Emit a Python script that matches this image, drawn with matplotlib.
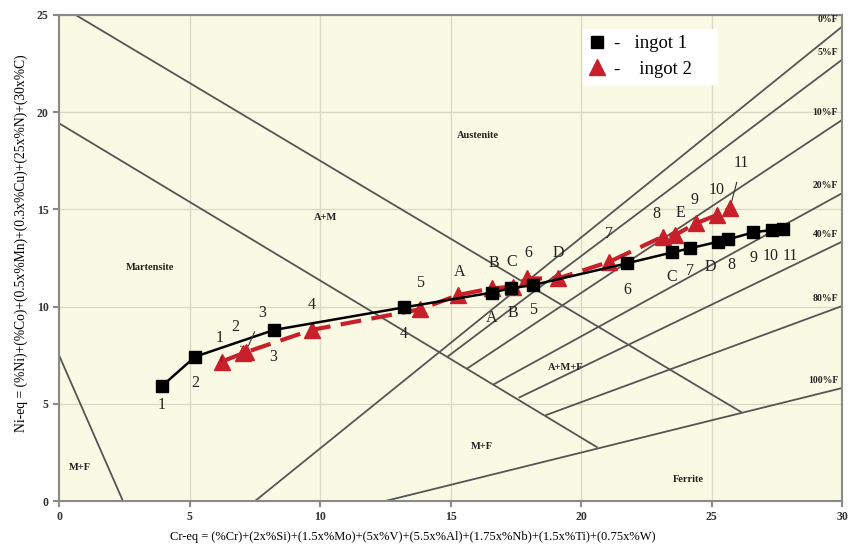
import matplotlib
matplotlib.use("Agg")
import matplotlib.pyplot as plt
from matplotlib.lines import Line2D

# --- data ---
# ingot 1 (black squares)
i1_cr = [3.95, 5.21, 8.24, 13.22, 16.58, 17.30, 18.16, 21.77, 23.50, 24.18, 25.26, 25.64, 26.60, 27.30, 27.75]
i1_ni = [5.92, 7.42, 8.80, 9.96, 10.72, 10.94, 11.11, 12.23, 12.79, 13.00, 13.34, 13.46, 13.82, 13.94, 13.99]
i1_names = ["1", "2", "3", "4", "A", "B", "5", "6", "C", "7", "D", "8", "9", "10", "11"]

# ingot 2 (red triangles)
i2_cr = [6.23, 7.05, 7.15, 9.68, 13.83, 15.30, 16.58, 17.38, 17.94, 19.13, 21.09, 23.13, 23.60, 24.40, 25.20, 25.70]
i2_ni = [7.17, 7.60, 7.65, 8.80, 9.86, 10.60, 10.94, 11.02, 11.45, 11.45, 12.31, 13.60, 13.68, 14.28, 14.71, 15.05]
i2_names = ["1", "2", "3", "4", "5", "A", "B", "C", "6", "D", "7", "8", "E", "9", "10", "11"]

# Schaeffler boundary lines (start / end points, Cr-eq, Ni-eq)
boundaries = {
    "A/A+M": ((0.64, 25.0), (26.13, 4.58)),
    "A+M/M": ((0.0, 19.43), (20.6, 2.78)),
    "M/M+F": ((0.0, 7.5), (2.45, 0.0)),
    "0%F": ((7.51, 0.0), (30.0, 24.4)),
    "5%F": ((14.92, 7.46), (30.0, 22.7)),
    "10%F": ((15.64, 6.82), (30.0, 19.6)),
    "20%F": ((16.68, 6.02), (30.0, 15.83)),
    "40%F": ((17.64, 5.33), (30.0, 13.34)),
    "80%F": ((18.66, 4.42), (30.0, 10.03)),
    "100%F": ((12.5, 0.0), (30.0, 5.81)),
}
ferrite_labels = ["0%F", "5%F", "10%F", "20%F", "40%F", "80%F", "100%F"]

regions = ["Austenite", "A+M", "Martensite", "A+M+F", "M+F", "M+F", "Ferrite"]
region_cr = [16.05, 10.2, 3.5, 19.4, 16.2, 0.8, 24.1]
region_ni = [18.8, 14.6, 12.0, 6.85, 2.8, 1.7, 1.13]

xlabel = "Cr-eq = (%Cr)+(2x%Si)+(1.5x%Mo)+(5x%V)+(5.5x%Al)+(1.75x%Nb)+(1.5x%Ti)+(0.75x%W)"
ylabel = "Ni-eq = (%Ni)+(%Co)+(0.5x%Mn)+(0.3x%Cu)+(25x%N)+(30x%C)"

serif = ["Liberation Serif", "DejaVu Serif"]
red = "#c8202a"

fig = plt.figure(figsize=(8.54, 5.49), dpi=100)
ax = fig.add_axes([0.0691, 0.0874, 0.9169, 0.8853])
ax.set_facecolor("#fafae4")
ax.set_xlim(0, 30)
ax.set_ylim(0, 25)
ax.set_xticks(range(0, 31, 5))
ax.set_yticks(range(0, 26, 5))
ax.grid(True, color="#d9d9c6", lw=1.0)
ax.set_axisbelow(True)
for s in ax.spines.values():
    s.set_color("#8a8a8a")
    s.set_linewidth(1.5)
ax.tick_params(colors="#8a8a8a", length=4, width=1.5, labelcolor="#333333")
for t in ax.get_xticklabels() + ax.get_yticklabels():
    t.set_family(serif)
    t.set_fontweight("bold")
    t.set_fontsize(8.5)

# boundary lines
for name, (p0, p1) in boundaries.items():
    ax.plot([p0[0], p1[0]], [p0[1], p1[1]], color="#555555", lw=1.3, zorder=2)

# ferrite % labels at the right edge
for lab in ferrite_labels:
    y_end = boundaries[lab][1][1]
    ax.text(29.85, y_end + 0.15, lab, ha="right", va="bottom", fontsize=7,
            fontweight="bold", family=serif, color="#222222", zorder=3)

for lab, x, y in zip(regions, region_cr, region_ni):
    ax.text(x, y, lab, ha="center", va="center", fontsize=7.5, fontweight="bold",
            family=serif, color="#222222", zorder=3)

# series
ax.plot(i2_cr, i2_ni, color=red, lw=3, dashes=(5, 2.5), zorder=4)
ax.plot(i2_cr, i2_ni, ls="none", marker="^", ms=11, color=red, zorder=5)
ax.plot(i1_cr, i1_ni, color="black", lw=1.8, zorder=6)
ax.plot(i1_cr, i1_ni, ls="none", marker="s", ms=8.5, color="black", zorder=7)

# point labels (pixel offsets from each point)
i1_off = [(0, -19), (0, -26), (-1, -27), (0, -27), (0, -25), (2, -25), (0, -25), (0, -27),
          (-1, -25), (0, -23), (-8, -25), (3, -26), (0, -26), (-1, -26), (7, -27)]
i2_off = [(-2, 24), (-8, 26), (17, 39), (0, 25), (0, 26), (1, 23), (2, 25), (-1, 25),
          (1, 25), (0, 25), (0, 28), (-6, 23), (5, 22), (-1, 23), (0, 25), (12, 45)]
leader = {"1": True, "2": True, "3": True, "11": True}

for n, x, y, o in zip(i1_names, i1_cr, i1_ni, i1_off):
    ax.annotate(n, (x, y), xytext=o, textcoords="offset pixels", ha="center", va="center",
                fontsize=11.5, family=serif, color="#222222", zorder=8)
for n, x, y, o in zip(i2_names, i2_cr, i2_ni, i2_off):
    arrow = dict(arrowstyle="-", color="#333333", lw=0.8, shrinkA=6, shrinkB=5) if n in leader else None
    ax.annotate(n, (x, y), xytext=o, textcoords="offset pixels", ha="center", va="center",
                fontsize=11.5, family=serif, color="#222222", zorder=8, arrowprops=arrow)

# legend
handles = [Line2D([], [], ls="none", marker="s", ms=8, color="black"),
           Line2D([], [], ls="none", marker="^", ms=11, color=red)]
leg = ax.legend(handles, ["-   ingot 1     ", "-    ingot 2    "], loc="upper left",
                bbox_to_anchor=(0.669, 0.972), frameon=True, fancybox=False,
                edgecolor="white", facecolor="white", framealpha=1,
                prop={"family": serif, "size": 13.5}, handlelength=0.8,
                handletextpad=0.5, labelspacing=0.45, borderpad=0.35,
                borderaxespad=0)
leg.set_zorder(10)

ax.set_xlabel(xlabel, family=serif, fontsize=9, labelpad=4)
ax.xaxis.set_label_coords(0.452, -0.062)
ax.set_ylabel(ylabel, family=serif, fontsize=9.8, labelpad=6)
ax.yaxis.set_label_coords(-0.039, 0.531)

fig.savefig("out.png", dpi=100)
